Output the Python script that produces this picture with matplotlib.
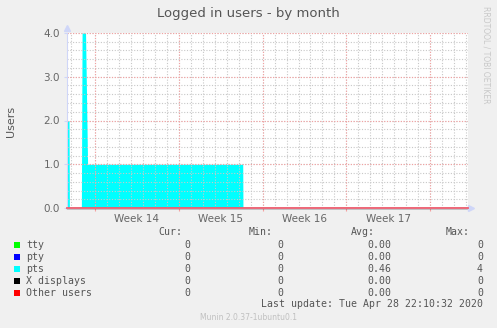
import numpy as np
import matplotlib
matplotlib.use("Agg")
import matplotlib.pyplot as plt
from matplotlib.patches import Rectangle

# data (x in days from the left edge of the graph)
days = [0, 0.17, 0.2, 1.2, 1.26, 1.55, 1.72, 14.68, 14.7, 33.5]
pts = [2, 2, 0, 0, 4, 4, 1, 1, 0, 0]
zeros = [0] * len(days)

week_edges = [2.34, 9.34, 16.34, 23.34, 30.34]
week_labels = ["Week 14", "Week 15", "Week 16", "Week 17"]

series = ["tty", "pty", "pts", "X displays", "Other users"]
colors = ["#00FF00", "#0000FF", "#00FFFF", "#000000", "#FF0000"]
cur = ["0", "0", "0", "0", "0"]
vmin = ["0", "0", "0", "0", "0"]
vavg = ["0.00", "0.00", "0.46", "0.00", "0.00"]
vmax = ["0", "0", "4", "0", "0"]

W, H = 497, 328
fig = plt.figure(figsize=(W / 100, H / 100), dpi=100, facecolor="#F0F0F0")

def fx(px):
    return px / W

def fy(py):
    return 1 - py / H

x0, x1, y0, y1 = 67, 468, 208, 33
ax = fig.add_axes([fx(x0), fy(y0), (x1 - x0) / W, (y0 - y1) / H])
ax.set_facecolor("white")

# stacked areas / lines
ax.fill_between(days, 0, zeros, color=colors[0], lw=0)
ax.fill_between(days, 0, zeros, color=colors[1], lw=0)
ax.fill_between(days, 0, pts, color=colors[2], lw=0)
ax.plot(days, zeros, color=colors[3], lw=1, clip_on=False)
ax.plot(days, zeros, color="#f06070", lw=1.3, zorder=5, clip_on=False)

ax.set_xlim(0, 33.5)
ax.set_ylim(0, 4.0)

# grid (rrdtool draws it over the areas)
dots = (0, (1, 1.5))
day_ticks = np.arange(week_edges[0] - 2, 33.5, 1.0)
for d in day_ticks:
    if abs(d - 1.34) < 0.01:
        continue  # hidden under the spike in the original
    ax.axvline(d, color="#c8c8c8", lw=0.8, ls=dots, zorder=2)
for v in np.arange(0.2, 4.01, 0.2):
    ax.axhline(v, color="#c8c8c8", lw=0.8, ls=dots, zorder=2)
for d in week_edges:
    ax.axvline(d, color="#f4a0a0", lw=0.8, ls=dots, zorder=2.1)
for v in [1, 2, 3, 4]:
    ax.axhline(v, color="#f4a0a0", lw=0.8, ls=dots, zorder=2.1)

ax.set_xticks(week_edges)
ax.set_xticklabels([])
centers = [(week_edges[i] + week_edges[i + 1]) / 2 for i in range(4)]
ax.set_xticks(centers, minor=True)
ax.set_xticklabels(week_labels, minor=True)
ax.tick_params(axis="x", which="major", length=2.5, color="#f4a0a0", width=0.8)
ax.tick_params(axis="x", which="minor", length=0, labelsize=7.5, labelcolor="#666666", pad=4)
ax.set_yticks([0, 1, 2, 3, 4])
ax.set_yticklabels(["0.0", "1.0", "2.0", "3.0", "4.0"])
ax.tick_params(axis="y", length=2, color="#CFD6F8", labelsize=7.5, labelcolor="#666666", pad=3)

for s in ["top", "right"]:
    ax.spines[s].set_visible(False)
ax.spines["left"].set_color("#CFD6F8")
ax.spines["bottom"].set_color("#CFD6F8")

# axis arrows
ax.plot(0, 4.12, marker="^", color="#CFD6F8", ms=4, clip_on=False)
ax.plot(33.75, 0, marker=">", color="#CFD6F8", ms=4, clip_on=False)

fig.text(0.5, fy(14), "Logged in users - by month", ha="center", va="center",
         fontsize=9.5, color="#555555")
fig.text(fx(11), fy(121), "Users", rotation=90, ha="center", va="center",
         fontsize=8, color="#555555")
fig.text(fx(486), fy(6), "RRDTOOL / TOBI OETIKER", rotation=270, ha="center", va="top",
         fontsize=5.5, color="#c8c8c8")

# legend table
mono = dict(family="DejaVu Sans Mono", fontsize=7.1, color="#555555", va="center")
fig.text(fx(182), fy(232), "Cur:", ha="right", **mono)
fig.text(fx(273), fy(232), "Min:", ha="right", **mono)
fig.text(fx(375), fy(232), "Avg:", ha="right", **mono)
fig.text(fx(470), fy(232), "Max:", ha="right", **mono)
row_y = [245, 257, 269, 281, 293]
for i, name in enumerate(series):
    yy = row_y[i]
    fig.add_artist(Rectangle((fx(14), fy(yy + 3)), 6 / W, 6 / H,
                             transform=fig.transFigure, color=colors[i], lw=0))
    fig.text(fx(26), fy(yy), name, ha="left", **mono)
    fig.text(fx(190), fy(yy), cur[i], ha="right", **mono)
    fig.text(fx(283), fy(yy), vmin[i], ha="right", **mono)
    fig.text(fx(391), fy(yy), vavg[i], ha="right", **mono)
    fig.text(fx(483), fy(yy), vmax[i], ha="right", **mono)
fig.text(fx(483), fy(304), "Last update: Tue Apr 28 22:10:32 2020", ha="right", **mono)
fig.text(0.5, fy(317), "Munin 2.0.37-1ubuntu0.1", ha="center", va="center",
         fontsize=5.5, color="#c0c0c0")

fig.savefig("out.png", dpi=100, facecolor=fig.get_facecolor())
